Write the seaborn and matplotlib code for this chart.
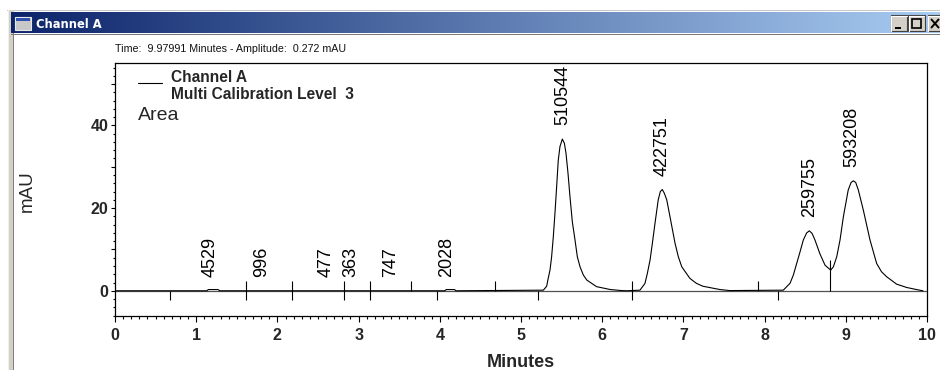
import numpy as np
import matplotlib
matplotlib.use("Agg")
import matplotlib.pyplot as plt
import seaborn as sns
from matplotlib.ticker import MultipleLocator
from matplotlib.patches import Rectangle

# ---------------- data ----------------
time_min = [0.0, 1.13, 1.15, 1.27, 1.29, 4.06, 4.08, 4.18, 4.20,
            5.275, 5.316, 5.335, 5.357, 5.377, 5.398, 5.418, 5.439, 5.459,
            5.48, 5.509, 5.534, 5.554, 5.579, 5.603, 5.632, 5.665, 5.694,
            5.727, 5.768, 5.81, 5.93, 6.10, 6.24, 6.30,
            6.465, 6.527, 6.556, 6.589, 6.618, 6.65, 6.69, 6.716, 6.74,
            6.765, 6.795, 6.835, 6.897, 6.938, 6.98, 7.08, 7.16, 7.24,
            7.45, 7.57,
            8.23, 8.313, 8.354, 8.395, 8.436, 8.477, 8.518, 8.551, 8.584,
            8.62, 8.68, 8.744, 8.814, 8.847, 8.888, 8.929, 8.97, 9.03,
            9.065, 9.093, 9.122, 9.154, 9.216, 9.257, 9.298, 9.38, 9.44,
            9.503, 9.626, 9.75, 9.87, 9.95]
mau = [0.0, 0.0, 0.3, 0.3, 0.0, 0.0, 0.3, 0.3, 0.0,
       0.15, 1.1, 3.0, 5.0, 8.2, 13.1, 18.7, 25.2, 31.6,
       34.9, 36.7, 35.7, 33.3, 28.4, 22.8, 16.7, 12.3, 8.2,
       5.8, 3.8, 2.6, 1.0, 0.3, 0.05, 0.0,
       0.15, 1.8, 4.2, 7.4, 11.5, 16.3, 22.0, 24.0, 24.5,
       23.6, 22.0, 17.9, 11.5, 8.2, 5.8, 3.0, 1.8, 1.1,
       0.3, 0.05,
       0.15, 1.8, 3.8, 6.6, 9.4, 12.3, 14.0, 14.5, 13.9,
       12.3, 9.0, 6.2, 5.0, 5.8, 8.2, 12.3, 17.9, 24.4,
       26.2, 26.6, 26.2, 24.4, 19.5, 15.9, 12.3, 6.6, 4.6,
       3.4, 1.6, 0.8, 0.3, 0.0]

mark_up = [3.64, 4.68, 7.92]
mark_down = [0.68, 3.96, 5.21, 8.16]
mark_cross = [1.61, 2.18, 2.82, 3.14, 6.37]
valley_time = [8.81]
valley_level = [7.4]

peak_time = [1.17, 1.81, 2.60, 2.91, 3.39, 4.08, 5.51, 6.74, 8.55, 9.08]
peak_apex = [0.0, 0.0, 0.0, 0.0, 0.0, 0.0, 36.7, 24.5, 14.4, 26.6]
peak_area = ["4529", "996", "477", "363", "747", "2028",
             "510544", "422751", "259755", "593208"]

x_ticks = [0, 1, 2, 3, 4, 5, 6, 7, 8, 9, 10]
x_tick_labels = ["0", "1", "2", "3", "4", "5", "6", "7", "8", "9", "10"]
y_ticks = [0, 10, 20, 30, 40, 50]
y_tick_labels = ["0", "", "20", "", "40", ""]

legend_lines = ["Channel A", "Multi Calibration Level  3"]
legend_note = "Area"
status_text = "Time:  9.97991 Minutes - Amplitude:  0.272 mAU"
window_title = "Channel A"

# ---------------- style ----------------
sns.set_style("white")
plt.rcParams['font.family'] = ['Liberation Sans', 'DejaVu Sans']

W, H = 940, 370
fig = plt.figure(figsize=(W / 100, H / 100), dpi=100)
fig.patch.set_facecolor("white")

# ---------- window frame (pixel coordinates) ----------
bg = fig.add_axes([0, 0, 1, 1], zorder=0)
bg.set_xlim(0, W)
bg.set_ylim(H, 0)
bg.axis("off")

bg.add_patch(Rectangle((7, 9.5), W, 1.2, color="#c8c8c8", lw=0))
# left frame
bg.add_patch(Rectangle((7.5, 10), 6, H, color="#d4d0c8", lw=0))
bg.add_patch(Rectangle((7.5, 10), 1, H, color="#f0f0f0", lw=0))
bg.add_patch(Rectangle((12.5, 33), 1.3, H, color="#808080", lw=0))
# title bar gradient
c0 = np.array([12, 36, 106]) / 255
c1 = np.array([168, 204, 242]) / 255
t = np.linspace(0, 1, 400)[None, :, None]
grad = c0 + (c1 - c0) * t
bg.imshow(grad, extent=[11, W, 33.5, 13.3], aspect="auto", zorder=1,
          interpolation="bilinear")
bg.add_patch(Rectangle((11, 33.5), W, 1.6, color="#7a7a7a", lw=0, zorder=2))
# icon
bg.add_patch(Rectangle((15, 17), 16, 13, facecolor="#c8c8c8",
                       edgecolor="#e8e8e8", lw=0.8, zorder=2))
bg.add_patch(Rectangle((16, 18), 14, 3, facecolor="#3050b0", lw=0, zorder=3))
bg.text(36, 28.3, window_title, color="white", fontsize=8.3,
        fontweight="bold", family="DejaVu Sans", va="baseline", zorder=3)
# buttons
for x0 in (890.5, 908.0, 927.5):
    bg.add_patch(Rectangle((x0, 15.3), 16.8, 15.6, facecolor="#d4d0c8",
                           edgecolor="#404040", lw=0.8, zorder=2))
    bg.plot([x0 + 0.6, x0 + 0.6, x0 + 16], [30.5, 16, 16], color="white",
            lw=0.8, zorder=3)
bg.add_patch(Rectangle((894.5, 26.5), 6, 2, color="black", lw=0, zorder=4))
bg.add_patch(Rectangle((911.5, 18.5), 9.5, 9, facecolor="none",
                       edgecolor="black", lw=1.2, zorder=4))
bg.plot([931.5, 938.5], [19.5, 27.5], color="black", lw=1.4, zorder=4)
bg.plot([931.5, 938.5], [27.5, 19.5], color="black", lw=1.4, zorder=4)
# status text
bg.text(115, 51.5, status_text, fontsize=7.7, va="baseline", color="#111111")

# ---------------- chart ----------------
L, R, T, B = 115, 927, 63, 316
ax = fig.add_axes([L / W, 1 - B / H, (R - L) / W, (B - T) / H], zorder=1)
ax.set_facecolor("white")


def fx(px):
    return (px - L) / (R - L)


def fy(py):
    return (B - py) / (B - T)


ax.axhline(0, color="#505050", lw=0.9, zorder=2)
sns.lineplot(x=time_min, y=mau, ax=ax, color="black", linewidth=0.8,
             estimator=None, sort=False, zorder=3)

MARK = 2.3
ax.vlines(mark_up, 0, MARK, color="black", lw=0.8, zorder=4)
ax.vlines(mark_down, -MARK, 0, color="black", lw=0.8, zorder=4)
ax.vlines(mark_cross, -MARK, MARK, color="black", lw=0.8, zorder=4)
ax.vlines(valley_time, 0, valley_level, color="black", lw=0.8, zorder=4)

for tm, ap, lab in zip(peak_time, peak_apex, peak_area):
    ax.annotate(lab, (tm, ap), xytext=(0, 10), textcoords="offset points",
                rotation=90, ha="center", va="bottom", fontsize=13,
                color="black")

ax.set_xlim(0, 10)
ax.set_ylim(-6.1, 55.1)
ax.set_xticks(x_ticks, x_tick_labels, fontsize=11.5, fontweight="bold")
ax.set_yticks(y_ticks, y_tick_labels, fontsize=11.5, fontweight="bold")
ax.xaxis.set_minor_locator(MultipleLocator(0.1))
ax.yaxis.set_minor_locator(MultipleLocator(2))
ax.tick_params(axis="both", which="both", bottom=True, left=True,
               direction="out", color="black", width=0.8)
ax.tick_params(axis="x", which="major", length=4.0, pad=4.3)
ax.tick_params(axis="x", which="minor", length=2.3)
ax.tick_params(axis="y", which="major", length=3.0, pad=1.8)
ax.tick_params(axis="y", which="minor", length=1.6)
for sp in ax.spines.values():
    sp.set_visible(True)
    sp.set_color("black")
    sp.set_linewidth(0.9)

ax.set_xlabel("Minutes", fontsize=13, fontweight="bold", va="baseline")
ax.xaxis.set_label_coords(0.5, fy(366.7))
ax.set_ylabel("mAU", fontsize=13.5, va="center", ha="center")
ax.yaxis.set_label_coords(fx(27.5), fy(191))

# legend block
ax.plot([fx(138), fx(162)], [fy(83), fy(83)], transform=ax.transAxes,
        color="black", lw=0.8)
ax.text(fx(171), fy(81.7), legend_lines[0], transform=ax.transAxes,
        fontsize=11.2, fontweight="bold", va="baseline")
ax.text(fx(171), fy(99.3), legend_lines[1], transform=ax.transAxes,
        fontsize=11.2, fontweight="bold", va="baseline")
ax.text(fx(138), fy(120), legend_note, transform=ax.transAxes,
        fontsize=14, va="baseline")

fig.savefig("out.png", dpi=100)
